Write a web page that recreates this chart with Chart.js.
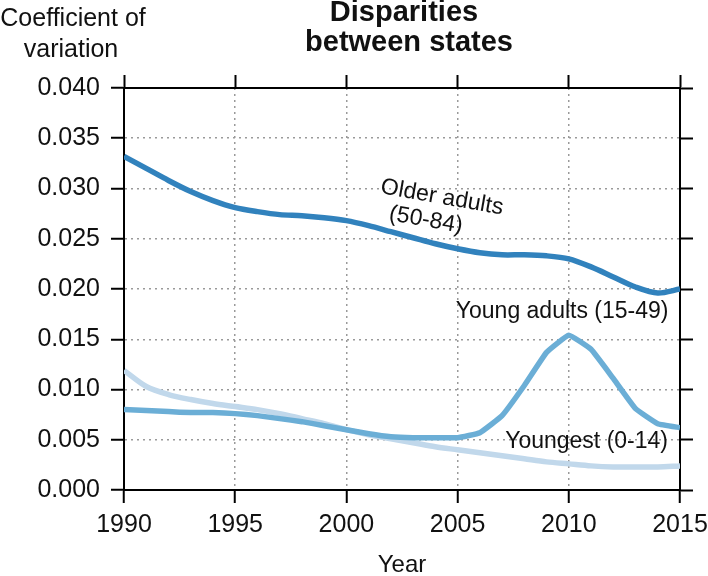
<!DOCTYPE html>
<html lang="en">
<head>
    <meta charset="UTF-8">
    <title>Disparities between states</title>
    <script src="https://cdn.jsdelivr.net/npm/chart.js"></script>
    <style>
        html, body { margin: 0; padding: 0; background: #fff; }
        #wrap { width: 708px; height: 576px; }
    </style>
</head>
<body>
    <div id="wrap"><canvas id="chart" width="708" height="576"></canvas></div>

    <script>
        const years = [1990, 1991, 1992, 1993, 1994, 1995, 1996, 1997, 1998, 1999, 2000, 2001, 2002,
                       2003, 2004, 2005, 2006, 2007, 2008, 2009, 2010, 2011, 2012, 2013, 2014, 2015];

        const olderAdults = [0.0332, 0.0320, 0.0308, 0.0297, 0.0288, 0.0281, 0.0277, 0.0274, 0.0273, 0.0271,
                             0.0268, 0.0263, 0.0257, 0.0251, 0.0245, 0.0240, 0.0236, 0.0234, 0.0234, 0.0233,
                             0.0230, 0.0222, 0.0212, 0.0202, 0.0196, 0.0200];

        const youngAdults = [0.0080, 0.0079, 0.0078, 0.0077, 0.0077, 0.0076, 0.0074, 0.0071, 0.0068, 0.0064,
                             0.0060, 0.0056, 0.0053, 0.0052, 0.0052, 0.0052, 0.0057, 0.0074, 0.0104, 0.0137,
                             0.0154, 0.0140, 0.0111, 0.0081, 0.0066, 0.0062];

        const youngest = [0.0119, 0.0103, 0.0095, 0.0090, 0.0086, 0.0083, 0.0080, 0.0076, 0.0071, 0.0066,
                          0.0060, 0.0055, 0.0051, 0.0047, 0.0043, 0.0040, 0.0037, 0.0034, 0.0031, 0.0028,
                          0.0026, 0.0024, 0.0023, 0.0023, 0.0023, 0.0024];

        const seriesNames = ['Older adults (50-84)', 'Young adults (15-49)', 'Youngest (0-14)'];
        const yTicks = [0, 0.005, 0.010, 0.015, 0.020, 0.025, 0.030, 0.035, 0.040];
        const xTicks = [1990, 1995, 2000, 2005, 2010, 2015];

        const FONT = '"Liberation Sans", Arial, sans-serif';

        function toPoints(values) {
            return years.map((y, i) => ({ x: y, y: values[i] }));
        }

        // fixed box sizes so the plot area lands where the reference has it
        function fixBox(w, h) {
            return (s) => {
                if (w !== null) s.width = w;
                if (h !== null) s.height = h;
                s.paddingLeft = 0;
                s.paddingRight = 0;
                s.paddingTop = 0;
                s.paddingBottom = 0;
            };
        }

        // titles and line labels drawn straight on the canvas
        const textPlugin = {
            id: 'texts',
            afterDraw(chart) {
                const ctx = chart.ctx;
                const area = chart.chartArea;
                const xs = chart.scales.x;
                const ys = chart.scales.y;
                const mid = (area.left + area.right) / 2;
                ctx.save();
                ctx.fillStyle = '#111';
                ctx.textAlign = 'center';
                ctx.textBaseline = 'middle';

                ctx.font = 'bold 29px ' + FONT;
                ctx.fillText('Disparities', mid + 2, 13);
                ctx.fillText('between states', mid + 7, 43);

                ctx.font = '25px ' + FONT;
                ctx.fillText('Coefficient of', 73, 19);
                ctx.fillText('variation', 71, 50);
                ctx.font = '24px ' + FONT;
                ctx.fillText('Year', mid, 565);

                ctx.font = '23px ' + FONT;
                ctx.fillText('Young adults (15-49)', xs.getPixelForValue(2009.7), ys.getPixelForValue(0.0177));
                ctx.fillText('Youngest (0-14)', xs.getPixelForValue(2010.8), ys.getPixelForValue(0.0048));

                ctx.save();
                ctx.translate(xs.getPixelForValue(2004.3), ys.getPixelForValue(0.0291));
                ctx.rotate(10 * Math.PI / 180);
                ctx.fillText('Older adults', 0, 0);
                ctx.fillText('(50-84)', -12, 25);
                ctx.restore();

                ctx.restore();
            }
        };

        const gridStyle = {
            color: '#9a9a9a',
            lineWidth: 1.5,
            tickColor: '#000',
            tickWidth: 2,
            tickLength: 13
        };

        new Chart(document.getElementById('chart'), {
            type: 'line',
            data: {
                datasets: [
                    {
                        label: seriesNames[0],
                        data: toPoints(olderAdults),
                        borderColor: '#3182bd',
                        borderWidth: 5.5,
                        tension: 0.3,
                        pointRadius: 0,
                        order: 0
                    },
                    {
                        label: seriesNames[1],
                        data: toPoints(youngAdults),
                        borderColor: '#6baed6',
                        borderWidth: 5.5,
                        tension: 0.1,
                        pointRadius: 0,
                        order: 1
                    },
                    {
                        label: seriesNames[2],
                        data: toPoints(youngest),
                        borderColor: '#c1d8eb',
                        borderWidth: 5.5,
                        tension: 0.3,
                        pointRadius: 0,
                        order: 2
                    }
                ]
            },
            options: {
                responsive: false,
                animation: false,
                layout: { padding: 0 },
                plugins: {
                    legend: { display: false },
                    title: { display: false },
                    tooltip: { enabled: false }
                },
                scales: {
                    x: {
                        type: 'linear',
                        position: 'bottom',
                        min: 1990,
                        max: 2015,
                        afterBuildTicks: (s) => { s.ticks = xTicks.map(v => ({ value: v })); },
                        ticks: {
                            padding: 7,
                            color: '#111',
                            font: { family: FONT, size: 25 },
                            maxRotation: 0,
                            callback: (v) => String(v)
                        },
                        grid: gridStyle,
                        border: { color: '#000', width: 2, dash: [2, 4] },
                        afterFit: fixBox(null, 86)
                    },
                    xTop: {
                        type: 'linear',
                        position: 'top',
                        min: 1990,
                        max: 2015,
                        afterBuildTicks: (s) => { s.ticks = xTicks.map(v => ({ value: v })); },
                        ticks: { display: false },
                        grid: { drawOnChartArea: false, tickColor: '#000', tickWidth: 2, tickLength: 13 },
                        border: { color: '#000', width: 2 },
                        afterFit: fixBox(null, 88)
                    },
                    y: {
                        type: 'linear',
                        position: 'left',
                        min: 0,
                        max: 0.04,
                        afterBuildTicks: (s) => { s.ticks = yTicks.map(v => ({ value: v })); },
                        ticks: {
                            padding: 11,
                            color: '#111',
                            font: { family: FONT, size: 25 },
                            callback: (v) => Number(v).toFixed(3)
                        },
                        grid: gridStyle,
                        border: { color: '#000', width: 2, dash: [2, 4] },
                        afterFit: fixBox(124, null)
                    },
                    yRight: {
                        type: 'linear',
                        position: 'right',
                        min: 0,
                        max: 0.04,
                        afterBuildTicks: (s) => { s.ticks = yTicks.map(v => ({ value: v })); },
                        ticks: { display: false },
                        grid: { drawOnChartArea: false, tickColor: '#000', tickWidth: 2, tickLength: 13 },
                        border: { color: '#000', width: 2 },
                        afterFit: fixBox(28, null)
                    }
                }
            },
            plugins: [textPlugin]
        });
    </script>
</body>
</html>
